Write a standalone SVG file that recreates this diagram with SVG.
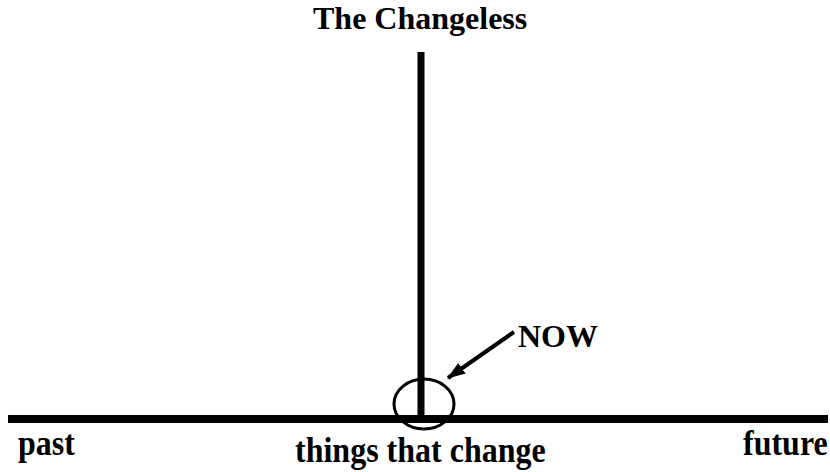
<svg xmlns="http://www.w3.org/2000/svg" width="830" height="472" viewBox="0 0 830 472">
<style>
.t{font-family:"Liberation Serif","Times New Roman",serif;font-weight:bold;font-size:32px;fill:#000}
.ln{stroke:#000;fill:none}
</style>
<defs>
<marker id="ah" viewBox="0 0 18 13" refX="17" refY="6.5" markerWidth="18" markerHeight="13" markerUnits="userSpaceOnUse" orient="auto">
<path d="M0,0 L18,6.5 L0,13 Z" fill="#000"/>
</marker>
</defs>
<rect width="830" height="472" fill="#fff"/>
<g id="connectors">
<line class="ln" x1="8" y1="419" x2="828" y2="419" stroke-width="8"/>
<line class="ln" x1="421" y1="52" x2="421" y2="419" stroke-width="7"/>
<line class="ln" x1="514" y1="332" x2="448" y2="378" stroke-width="4" marker-end="url(#ah)"/>
</g>
<g id="now-circle"><ellipse class="ln" cx="424" cy="404" rx="30" ry="25" stroke-width="3"/></g>
<g id="title"><text class="t" x="313" y="29">The Changeless</text></g>
<g id="now"><text class="t" x="518" y="347">NOW</text></g>
<g id="past"><text class="t" transform="translate(18,455) scale(1,1.12)">past</text></g>
<g id="things"><text class="t" transform="translate(295,462) scale(1,1.12)">things that change</text></g>
<g id="future"><text class="t" transform="translate(743,455) scale(1,1.12)">future</text></g>
</svg>
